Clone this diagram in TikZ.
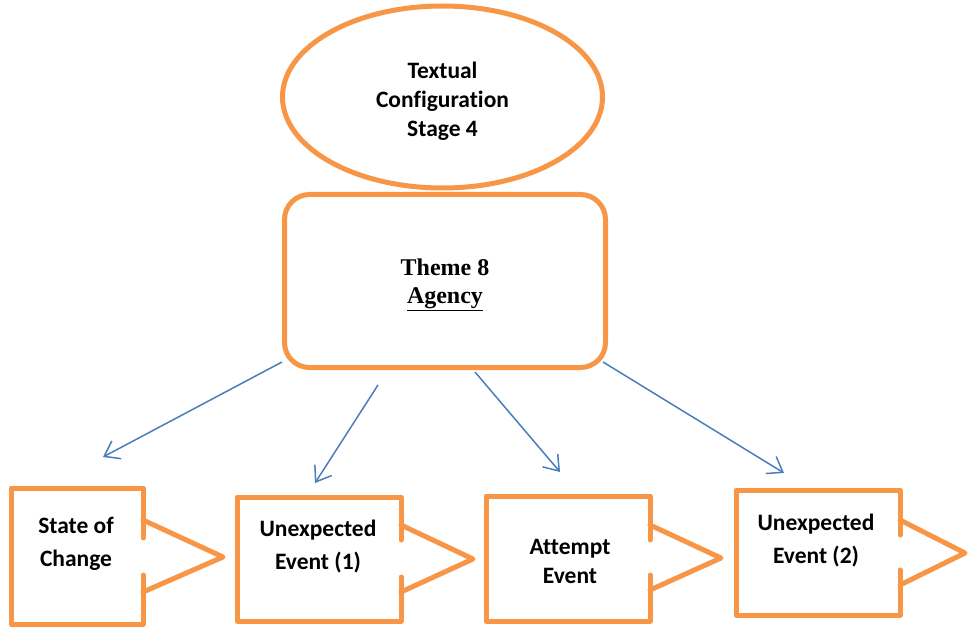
\documentclass[tikz,border=0pt]{standalone}
\usepackage{fontspec}
\setmainfont{Carlito}[Ligatures=NoCommon]
\newfontfamily\timesfont{Liberation Serif}
\usetikzlibrary{arrows.meta}
\usetikzlibrary{shapes.geometric}

\definecolor{boxorange}{HTML}{F79646}
\definecolor{arrowblue}{HTML}{4A7EBB}

\tikzset{
  orangeline/.style={boxorange, line width=5pt, line join=round, line cap=round},
  bluearrow/.style={arrowblue, line width=1.5pt, -{Straight Barb[length=14pt,width=20pt,line width=1.5pt]}},
  boxtext/.style={align=center, text=black, font=\bfseries\fontsize{23.5}{33}\selectfont},
}

\begin{document}
\begin{tikzpicture}[x=1pt,y=-1pt]
\useasboundingbox (0,0) rectangle (969,628);
% top ellipse and theme box
\node[draw, orangeline, rounded corners=25pt, minimum width=321pt, minimum height=173pt] (theme) at (445,281) {};
\node[align=center, text=black, font=\timesfont\bfseries\fontsize{24}{28}\selectfont] (agency) at (445,285) {Theme 8\\\underline{Agency}};
\node[ellipse, draw, orangeline, minimum width=320pt, minimum height=182pt] (stage) at (442.5,97) {};
\node[boxtext, font=\bfseries\fontsize{23.5}{29}\selectfont] (stagetext) at (442.5,101) {Textual\\Configuration\\Stage 4};

% callout 1
\draw[orangeline] (143,538) -- (143,488) -- (11,488) -- (11,624) -- (143,624) -- (143,575);
\draw[orangeline] (143,520) -- (223,557) -- (143,592);
\node[boxtext] (change) at (76,544) {State of\\Change};
% callout 2
\draw[orangeline] (401,540) -- (401,497) -- (237,497) -- (237,621) -- (401,621) -- (401,577);
\draw[orangeline] (401,525) -- (473,559) -- (401,592);
\node[boxtext] (event1) at (318,546.5) {Unexpected\\Event (1)};
% callout 3
\draw[orangeline] (650,540) -- (650,496) -- (486,496) -- (486,621) -- (650,621) -- (650,575);
\draw[orangeline] (650,525) -- (721,558) -- (650,590);
\node[boxtext, font=\bfseries\fontsize{23.5}{29}\selectfont] (attempt) at (570,561) {Attempt\\Event};
% callout 4
\draw[orangeline] (900,535) -- (900,490) -- (736,490) -- (736,615) -- (900,615) -- (900,570);
\draw[orangeline] (900,520) -- (965,553) -- (900,585);
\node[boxtext] (event2) at (816,540.5) {Unexpected\\Event (2)};

% arrows
\coordinate (s1) at (282,362);
\coordinate (e1) at (103,457);
\coordinate (s2) at (378,385);
\coordinate (e2) at (315,483);
\coordinate (s3) at (475,372);
\coordinate (e3) at (560,472);
\coordinate (s4) at (603,362);
\coordinate (e4) at (784,473);
\draw[bluearrow] (s1) -- (e1);
\draw[bluearrow] (s2) -- (e2);
\draw[bluearrow] (s3) -- (e3);
\draw[bluearrow] (s4) -- (e4);
\end{tikzpicture}
\end{document}
